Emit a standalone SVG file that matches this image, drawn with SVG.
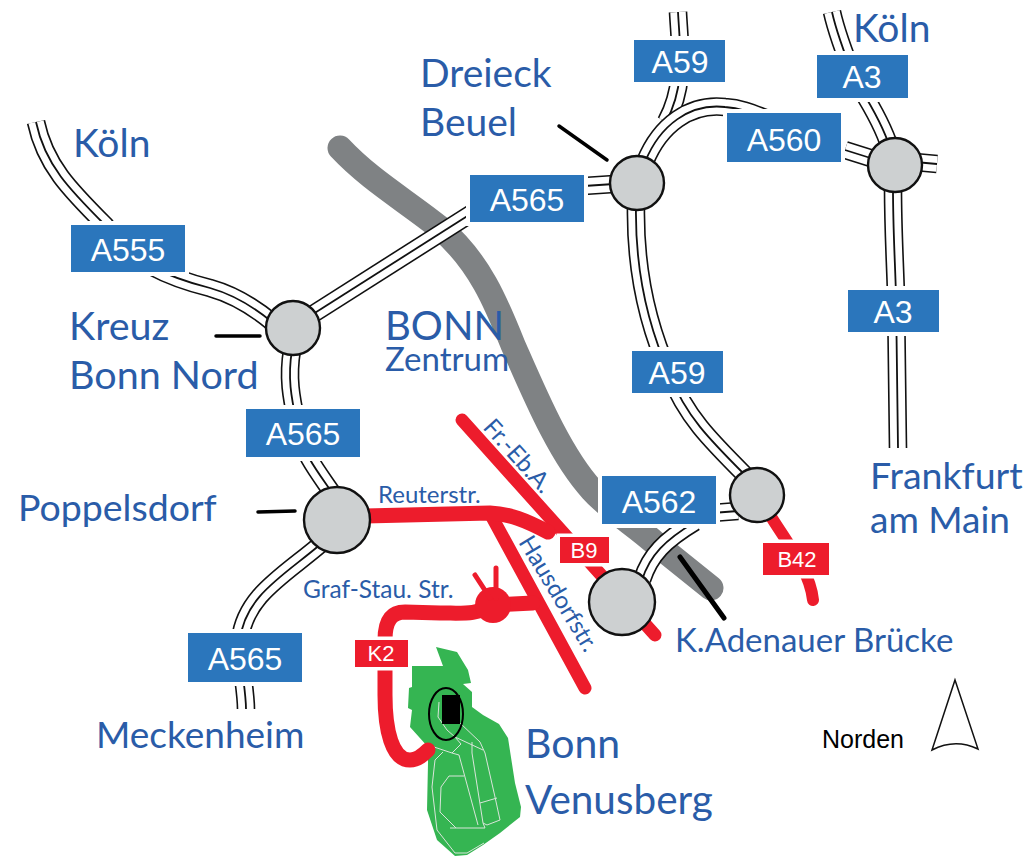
<svg xmlns="http://www.w3.org/2000/svg" xmlns:xlink="http://www.w3.org/1999/xlink" width="1030" height="856" viewBox="0 0 1030 856">
<style>
.o{fill:none;stroke:#111;stroke-width:18.6}
.w{fill:none;stroke:#fff;stroke-width:15.4}
.c{fill:none;stroke:#111;stroke-width:1.8}
.red{fill:none;stroke:#ed1c2c;stroke-linecap:round;stroke-linejoin:round}
.lead{stroke:#000;stroke-linecap:round;fill:none}
.hub{fill:#cdd0d1;stroke:#111;stroke-width:2.4}
.bl{fill:#2b76bc;stroke:#fff;stroke-width:8;paint-order:stroke}
.rd{fill:#ed1c2c;stroke:#fff;stroke-width:7;paint-order:stroke}
.lt{font-family:"Liberation Sans",Arial,sans-serif;fill:#fff;text-anchor:middle}
.t{font-family:Lato,"Open Sans",sans-serif;fill:#2a5ca8}
.veg{fill:none;stroke:#d9e4da;stroke-width:1}
</style>
<defs>
<path id="r1" d="M36,122 C45,165 70,190 105,225 C130,262 170,278 210,288 C235,295 255,308 272,322"/>
<path id="r2" d="M310,316 L480,208"/>
<path id="r3" d="M584,186 L614,184"/>
<path id="r4" d="M292,350 C287,380 292,400 298,430 C305,460 325,480 340,505"/>
<path id="r5" d="M322,543 C285,575 245,595 240,640 C240,665 246,690 246,709"/>
<path id="r6" d="M678,12 C680,50 686,85 666,122"/>
<path id="r7" d="M645,162 C660,125 690,103 725,107 C740,108 750,112 765,118"/>
<path id="r8" d="M845,150 L880,161"/>
<path id="r9" d="M915,162 L937,164"/>
<path id="r10" d="M832,12 C836,30 845,55 855,80 C868,100 880,120 888,142"/>
<path id="r11" d="M893,188 C893,230 895,260 896,295 L898,448"/>
<path id="r12" d="M636,205 C635,260 645,320 670,375 C685,415 710,440 745,475"/>
<path id="r13" d="M712,513 L738,511"/>
<path id="r14" d="M642,580 C650,555 665,540 695,522"/>
</defs>
<path id="rhine" d="M340,148 C370,180 405,200 440,228 C480,262 497,305 513,345 C535,395 560,455 592,490 C610,510 635,525 655,543 L711,588" fill="none" stroke="#7f8284" stroke-width="25" stroke-linecap="round" stroke-linejoin="round"/>
<g id="venusberg">
<path d="M436,647 L457,652 L468,670 L471,683 L463,684 L472,692 L472,707 L483,715 L499,724 L508,738 L515,783 L521,807 L520,817 L500,833 L483,845 L467,855 L455,856 L437,840 L427,810 L428,763 L428,747 L410,727 L412,710 L408,708 L409,688 L412,687 L412,666 L443,666 Z" fill="#35b552"/>
<path class="veg" d="M439,702 L438,717 L447,730 L455,737 L483,750"/>
<path class="veg" d="M460,723 L480,742 L485,753 L495,797 L500,820 L487,825 L483,823"/>
<path class="veg" d="M434,747 L452,753 L461,744 L455,737"/>
<path class="veg" d="M452,753 L459,755 L478,825"/>
<path class="veg" d="M472,742 L472,753 L483,823 L485,828 L450,828"/>
<path class="veg" d="M443,752 L435,760 L432,787 L437,830 L455,853 L467,853 L484,843"/>
<path class="veg" d="M464,776 L449,776 L441,787 L440,812 L456,828"/>
<path class="veg" d="M480,803 L497,798"/>
<ellipse cx="446" cy="714" rx="17" ry="26" fill="none" stroke="#000" stroke-width="2"/>
<rect x="442" y="695" width="18" height="29" fill="#000"/>
</g>
<g id="connectors">
<use href="#r1" class="o"/><use href="#r1" class="w"/><use href="#r1" class="c"/>
<use href="#r2" class="o"/><use href="#r2" class="w"/><use href="#r2" class="c"/>
<use href="#r3" class="o"/><use href="#r3" class="w"/><use href="#r3" class="c"/>
<use href="#r4" class="o"/><use href="#r4" class="w"/><use href="#r4" class="c"/>
<use href="#r5" class="o"/><use href="#r5" class="w"/><use href="#r5" class="c"/>
<use href="#r6" class="o"/><use href="#r6" class="w"/><use href="#r6" class="c"/>
<use href="#r7" class="o"/><use href="#r7" class="w"/><use href="#r7" class="c"/>
<use href="#r8" class="o"/><use href="#r8" class="w"/><use href="#r8" class="c"/>
<use href="#r9" class="o"/><use href="#r9" class="w"/><use href="#r9" class="c"/>
<use href="#r10" class="o"/><use href="#r10" class="w"/><use href="#r10" class="c"/>
<use href="#r11" class="o"/><use href="#r11" class="w"/><use href="#r11" class="c"/>
<use href="#r12" class="o"/><use href="#r12" class="w"/><use href="#r12" class="c"/>
<use href="#r13" class="o"/><use href="#r13" class="w"/><use href="#r13" class="c"/>
<use href="#r14" class="o"/><use href="#r14" class="w"/><use href="#r14" class="c"/>
<path class="red" stroke-width="13" d="M462,420 L655,635"/>
<path class="red" stroke-width="13" d="M492,517 L585,688"/>
<path class="red" stroke-width="15" stroke-linecap="butt" d="M365,516 L490,513 C510,514 525,520 548,532"/>
<path class="red" stroke-width="15" d="M533,603 L493,605 C475,615 465,613 440,613 L405,612 C392,612 385,620 385,640 L385,695 C385,730 392,760 410,760 C418,760 424,754 428,750"/>
<circle class="red" cx="493" cy="605" r="18" style="fill:#ed1c2c;stroke:none"/>
<path class="red" stroke-width="5" d="M475,575 L490,598 M496,568 L496,598"/>
<path class="red" stroke-width="12" d="M770,515 C785,540 810,570 813,600"/>
<path class="lead" stroke-width="3.5" d="M559,126 L607,160"/>
<path class="lead" stroke-width="3.5" d="M216,336 L260,336"/>
<path class="lead" stroke-width="3.5" d="M258,512 L295,511"/>
<path class="lead" stroke-width="5" d="M680,557 L724,618"/>
</g>
<g id="hub-kreuz"><circle class="hub" cx="293" cy="328" r="27"/></g>
<g id="hub-poppelsdorf"><circle class="hub" cx="337" cy="520" r="33"/></g>
<g id="hub-dreieck"><circle class="hub" cx="637" cy="183" r="27"/></g>
<g id="hub-a3"><circle class="hub" cx="895" cy="165" r="27"/></g>
<g id="hub-a59"><circle class="hub" cx="757" cy="495" r="27"/></g>
<g id="hub-bruecke"><circle class="hub" cx="622" cy="602" r="33"/></g>
<g id="l-a555"><rect class="bl" x="71" y="225" width="114" height="47"/><text class="lt" x="128" y="261" font-size="32">A555</text></g>
<g id="l-a565a"><rect class="bl" x="470" y="175" width="114" height="47"/><text class="lt" x="527" y="211" font-size="32">A565</text></g>
<g id="l-a565b"><rect class="bl" x="246" y="409" width="114" height="48"/><text class="lt" x="303" y="445" font-size="32">A565</text></g>
<g id="l-a565c"><rect class="bl" x="188" y="633" width="114" height="49"/><text class="lt" x="245" y="670" font-size="32">A565</text></g>
<g id="l-a59a"><rect class="bl" x="634" y="40" width="91" height="42"/><text class="lt" x="680" y="73" font-size="32">A59</text></g>
<g id="l-a3a"><rect class="bl" x="817" y="55" width="91" height="43"/><text class="lt" x="862" y="88" font-size="32">A3</text></g>
<g id="l-a560"><rect class="bl" x="727" y="113" width="114" height="49"/><text class="lt" x="784" y="151" font-size="32">A560</text></g>
<g id="l-a3b"><rect class="bl" x="848" y="290" width="91" height="42"/><text class="lt" x="893" y="323" font-size="32">A3</text></g>
<g id="l-a59b"><rect class="bl" x="632" y="351" width="91" height="42"/><text class="lt" x="677" y="384" font-size="32">A59</text></g>
<g id="l-a562"><rect class="bl" x="602" y="476" width="114" height="48"/><text class="lt" x="659" y="513" font-size="32">A562</text></g>
<g id="l-b9"><rect class="rd" x="560" y="537" width="49" height="26"/><text class="lt" x="584" y="558" font-size="22">B9</text></g>
<g id="l-k2"><rect class="rd" x="355" y="640" width="53" height="27"/><text class="lt" x="381" y="661" font-size="22">K2</text></g>
<g id="l-b42"><rect class="rd" x="763" y="543" width="66" height="32"/><text class="lt" x="797" y="567" font-size="22">B42</text></g>
<g id="labels">
<text class="t" x="73" y="157" font-size="39">Köln</text>
<text class="t" x="853" y="42" font-size="39">Köln</text>
<text class="t" x="420" y="87" font-size="39">Dreieck</text>
<text class="t" x="420" y="136" font-size="39">Beuel</text>
<text class="t" x="69" y="340" font-size="39.5">Kreuz</text>
<text class="t" x="69" y="389" font-size="39.5">Bonn Nord</text>
<text class="t" x="385" y="340" font-size="40">BONN</text>
<text class="t" x="385" y="371" font-size="33">Zentrum</text>
<text class="t" x="18" y="521" font-size="37.5">Poppelsdorf</text>
<text class="t" x="96" y="748" font-size="37">Meckenheim</text>
<text class="t" x="870" y="489" font-size="37.5">Frankfurt</text>
<text class="t" x="870" y="533" font-size="37">am Main</text>
<text class="t" x="525" y="758" font-size="41">Bonn</text>
<text class="t" x="525" y="814" font-size="40.5">Venusberg</text>
<text class="t" x="675" y="652" font-size="33">K.Adenauer Brücke</text>
<text class="t" x="378" y="503" font-size="24">Reuterstr.</text>
<text class="t" x="303" y="598" font-size="24.5">Graf-Stau. Str.</text>
<text class="t" font-size="24" transform="translate(482,428) rotate(48)">Fr.-Eb.A.</text>
<text class="t" font-size="24" transform="translate(518,542) rotate(59)">Hausdorfstr.</text>
</g>
<g id="north">
<path d="M955,680 L978,749 Q955,738 932,750 Z" fill="#fff" stroke="#111" stroke-width="1.5"/>
<text x="822" y="748" font-size="25" font-family="'Liberation Sans',Arial,sans-serif" fill="#000">Norden</text>
</g>
</svg>
